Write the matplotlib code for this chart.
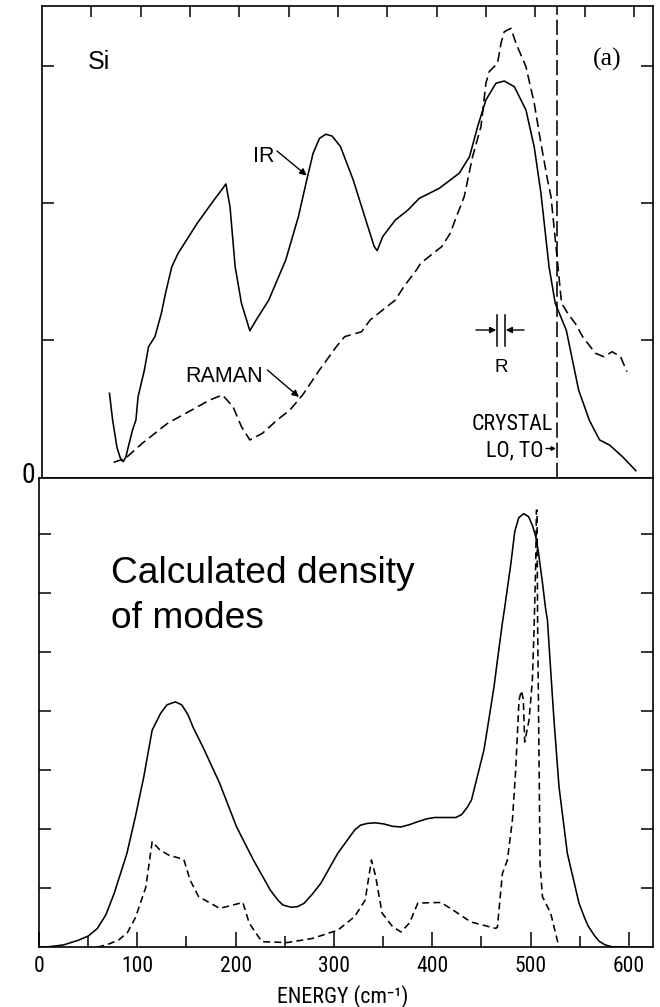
import matplotlib
matplotlib.use('Agg')
import matplotlib.pyplot as plt
from matplotlib.lines import Line2D
from matplotlib.patches import FancyArrowPatch

# ---------------- data ----------------
# Top panel: measured IR absorption (solid) and Raman (dashed) of amorphous Si
ir_energy = [68.4, 71.6, 76, 80, 82.4, 85, 88, 91.8, 95.2, 97.4, 103.8, 108, 114.5, 121,
             125.2, 131.6, 138, 142.3, 150.9, 157.3, 165.8, 174.4, 180.8, 186.4, 190.6,
             195.8, 202.2, 210.7, 217.1, 229.9, 247.1, 259.9, 268.4, 274.8, 281.3, 287.7,
             294.1, 302.6, 315.5, 328.3, 336.8, 339.8, 345.4, 358.2, 371, 382.5, 402.7,
             423, 433.4, 441.6, 450, 460.2, 468.6, 478.8, 490.6, 499, 505.8, 514, 520.3,
             531.5, 544, 554.8, 560, 565.3, 575.4, 588.5, 602]
ir_signal = [0.615, 0.42, 0.22, 0.13, 0.117, 0.15, 0.24, 0.348, 0.42, 0.59, 0.785, 0.955,
             1.028, 1.198, 1.344, 1.538, 1.636, 1.684, 1.781, 1.854, 1.939, 2.024, 2.085,
             2.141, 1.975, 1.538, 1.271, 1.071, 1.149, 1.295, 1.587, 1.902, 2.17, 2.364,
             2.473, 2.503, 2.49, 2.413, 2.17, 1.877, 1.684, 1.655, 1.757, 1.878, 1.951,
             2.036, 2.109, 2.219, 2.34, 2.558, 2.753, 2.875, 2.891, 2.85, 2.68, 2.41,
             2.073, 1.538, 1.271, 1.075, 0.639, 0.42, 0.347, 0.275, 0.238, 0.153, 0.051]

raman_energy = [72.6, 84.6, 101.7, 127.4, 148.7, 170, 182.9, 193.6, 202.2, 210.7, 223.5,
                238.5, 251.3, 264.2, 281.3, 298.4, 306.9, 324, 332.6, 345.4, 358.2, 366.8,
                379.6, 383.9, 396.7, 405.2, 413.8, 420, 428, 436.5, 445, 450, 453.4, 461.8,
                465.3, 468.6, 475.4, 480.5, 490.6, 499, 505.8, 512.5, 516, 522.4, 526.7,
                533, 541.7, 548, 561, 569.5, 578, 586.5, 593]
raman_signal = [0.112, 0.141, 0.251, 0.397, 0.481, 0.566, 0.603, 0.518, 0.372, 0.275,
                0.324, 0.421, 0.493, 0.603, 0.785, 0.955, 1.028, 1.064, 1.149, 1.222,
                1.295, 1.392, 1.514, 1.563, 1.636, 1.684, 1.781, 1.9, 2.048, 2.34, 2.558,
                2.875, 2.96, 3.02, 3.166, 3.25, 3.275, 3.166, 2.996, 2.729, 2.437, 2.17,
                2.048, 1.587, 1.271, 1.198, 1.113, 1.028, 0.907, 0.882, 0.918, 0.882, 0.773]

crystal_lo_to = 521.6

# Bottom panel: calculated density of modes (solid) and dashed calculation
dos_energy = [0, 10, 25, 40, 50, 59.4, 68, 76.5, 89.4, 98, 106.6, 115.1, 123.7, 130.2,
              138.7, 145.2, 151.6, 157, 166.6, 183.8, 201, 218.1, 235.3, 243, 248.1,
              256.7, 263, 269.6, 278, 286.7, 303.9, 321.1, 327, 333.9, 342, 351.1, 360,
              368.3, 377, 385.4, 395, 402.6, 414, 424, 430, 436, 440, 446, 452.7, 458,
              462.9, 467, 471.4, 473.4, 480, 484, 488, 493, 498, 502, 505.3, 508, 512,
              515.5, 517.2, 520.5, 523.9, 529, 537.5, 549.3, 555, 559, 565, 570, 576,
              582.7, 600, 624]
dos_value = [0, 0.01, 0.04, 0.12, 0.19, 0.32, 0.55, 0.915, 1.59, 2.21, 2.89, 3.68, 3.966,
             4.11, 4.16, 4.11, 3.94, 3.72, 3.4, 2.78, 2.04, 1.48, 0.97, 0.8, 0.717, 0.678,
             0.69, 0.745, 0.9, 1.085, 1.593, 1.988, 2.07, 2.1, 2.11, 2.09, 2.05, 2.04, 2.08,
             2.13, 2.18, 2.2, 2.2, 2.2, 2.25, 2.38, 2.5, 2.9, 3.35, 3.9, 4.42, 4.95, 5.5,
             5.72, 6.5, 7.05, 7.28, 7.35, 7.3, 7.15, 6.96, 6.7, 6.2, 5.72, 5.55, 4.7, 3.85,
             2.72, 1.59, 0.75, 0.5, 0.35, 0.2, 0.1, 0.04, 0.01, 0, 0]

calc_energy = [59.4, 70, 80.8, 90, 98, 108.7, 115.1, 123, 132.3, 147.3, 153.7, 162.3,
               183.8, 207.4, 213.8, 226.7, 252.4, 278.2, 303.9, 321.1, 331.8, 338.2,
               342.5, 349, 359.7, 368.3, 376.8, 385.4, 409, 424, 439.2, 464.6, 466.3,
               471.4, 476.5, 481.6, 484.9, 488.3, 490.7, 492.7, 494.1, 498.5, 501.9,
               503.6, 505.3, 506.0, 506.6, 507.2, 508.6, 509.7, 512.1, 520.5, 529]
calc_value = [0, 0.05, 0.12, 0.25, 0.5, 1.02, 1.79, 1.65, 1.56, 1.49, 1.14, 0.86, 0.66,
              0.76, 0.41, 0.095, 0.08, 0.15, 0.29, 0.52, 0.8, 1.48, 1.2, 0.58, 0.35, 0.26,
              0.41, 0.75, 0.76, 0.6, 0.43, 0.32, 0.34, 1.25, 1.48, 2.16, 3.0, 4.19, 4.35,
              4.2, 3.48, 3.85, 4.53, 5.38, 6.5, 7.41, 7.41, 5.55, 3.29, 1.42, 0.86, 0.58, 0]

x_major = [0, 100, 200, 300, 400, 500, 600]
x_minor = [50, 150, 250, 350, 450, 550]
top_x_ticks = [50, 100, 150, 200, 250, 300, 350, 400, 450, 500, 550, 600]
top_y_ticks = [1, 2, 3]
bot_y_ticks = [1, 2, 3, 4, 5, 6, 7]

# ---------------- styling ----------------
NARROW = ['Liberation Sans Narrow', 'Roboto Condensed', 'DejaVu Sans Condensed',
          'Liberation Sans', 'DejaVu Sans']
SANS = ['Liberation Sans', 'DejaVu Sans']
SERIF = ['Liberation Serif', 'DejaVu Serif']
plt.rcParams['lines.scale_dashes'] = False
plt.rcParams['font.family'] = NARROW

W, H = 660, 1007
fig = plt.figure(figsize=(6.6, 10.07), dpi=100)


def fx(px):
    return px / W


def fy(py):
    return 1 - py / H


ax_top = fig.add_axes([fx(42), fy(477.7), (653 - 42) / W, (477.7 - 5.7) / H])
ax_bot = fig.add_axes([fx(39), fy(947.3), (652.7 - 39) / W, (947.3 - 477.7) / H])

LW = 1.15
for ax in (ax_top, ax_bot):
    for s in ax.spines.values():
        s.set_linewidth(1.2)

# top panel
ax_top.plot(ir_energy, ir_signal, color='black', lw=LW)
ax_top.plot(raman_energy, raman_signal, color='black', lw=LW, dashes=(7, 3.5))
ax_top.axvline(crystal_lo_to, color='black', lw=LW, dashes=(11, 3.5))
ax_top.set_xlim(0, 619.4)
ax_top.set_ylim(0, 3.44)
ax_top.set_xticks(top_x_ticks)
ax_top.set_yticks(top_y_ticks)
ax_top.tick_params(axis='x', which='both', direction='in', top=True, bottom=False,
                   labeltop=False, labelbottom=False, length=8, width=1.1)
ax_top.tick_params(axis='y', which='both', direction='in', left=True, right=True,
                   labelleft=False, labelright=False, length=8.5, width=1.1)

# bottom panel
ax_bot.plot(dos_energy, dos_value, color='black', lw=LW)
ax_bot.plot(calc_energy, calc_value, color='black', lw=LW, dashes=(5, 3))
ax_bot.set_xlim(0, 624.3)
ax_bot.set_ylim(0, 7.96)
ax_bot.set_xticks(x_major)
ax_bot.set_xticklabels([str(v) for v in x_major])
ax_bot.set_xticks(x_minor, minor=True)
ax_bot.set_yticks(bot_y_ticks)
ax_bot.tick_params(axis='x', which='major', direction='in', top=False, bottom=True,
                   length=11, width=1.1, pad=6.3, labelsize=15.5)
ax_bot.tick_params(axis='x', which='minor', direction='in', top=False, bottom=True,
                   length=8, width=1.1)
ax_bot.tick_params(axis='y', which='both', direction='in', left=True, right=True,
                   labelleft=False, labelright=False, length=8.5, width=1.1)
for lab in ax_bot.get_xticklabels():
    lab.set_family(NARROW)

# ---------------- text & annotations ----------------
def ftext(x, y, s, **kw):
    fig.text(fx(x), fy(y), s, transform=fig.transFigure, **kw)


def farrow(x0, y0, x1, y1, ms=10):
    fig.add_artist(FancyArrowPatch((fx(x0), fy(y0)), (fx(x1), fy(y1)),
                                   transform=fig.transFigure, arrowstyle='-|>',
                                   mutation_scale=ms, lw=1.0, color='black',
                                   shrinkA=0, shrinkB=0))


ftext(28.3, 483.3, '0', ha='center', va='baseline', family=NARROW, size=20)
ftext(99, 69, 'Si', ha='center', va='baseline', family=SANS, size=18)
ftext(606.7, 66, '(a)', ha='center', va='baseline', family=SERIF, size=18.5)
ftext(263.5, 161.7, 'IR', ha='center', va='baseline', family=SANS, size=15.5)
farrow(277, 151, 306.7, 175.5)
ftext(224.2, 381.7, 'RAMAN', ha='center', va='baseline', family=SANS, size=15.5)
farrow(267.4, 370, 299, 397)
ftext(553.3, 430, 'CRYSTAL', ha='right', va='baseline', family=NARROW, size=15.8)
ftext(543.3, 456.5, 'LO, TO', ha='right', va='baseline', family=NARROW, size=15.8)
farrow(546, 448.5, 556, 448.5, ms=6)
ftext(501, 371.7, 'R', ha='center', va='baseline', family=SANS, size=13.5)
for bx in (496.7, 505.3):
    fig.add_artist(Line2D([fx(bx), fx(bx)], [fy(315), fy(345.7)],
                          transform=fig.transFigure, color='black', lw=1.1))
farrow(476, 330, 496.2, 330, ms=9)
farrow(524, 330, 505.8, 330, ms=9)

ftext(111.4, 583.3, 'Calculated density', ha='left', va='baseline', family=SANS, size=26.7)
ftext(111.4, 628.3, 'of modes', ha='left', va='baseline', family=SANS, size=26.7)

ftext(342.3, 1003, 'ENERGY (cm⁻¹)', ha='center', va='baseline', family=NARROW, size=15.8)

fig.savefig('out.png', dpi=100)
